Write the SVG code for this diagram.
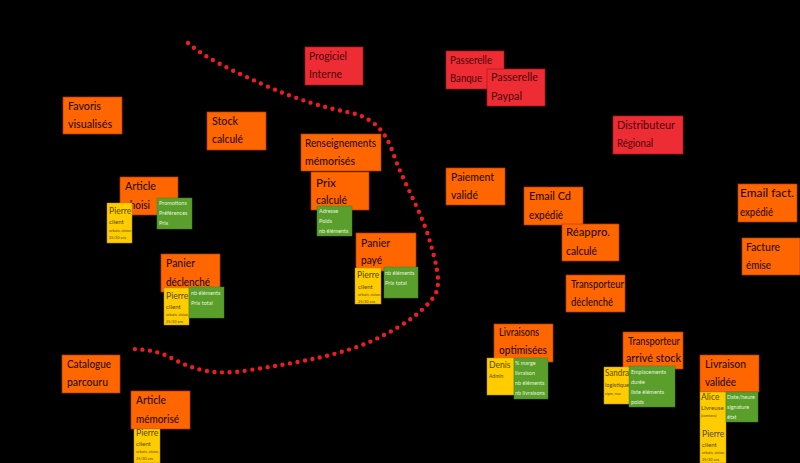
<svg xmlns="http://www.w3.org/2000/svg" width="800" height="463" viewBox="0 0 800 463">
<style>
text{font-family:"Lato","Liberation Sans",sans-serif;}
.o{fill:#ff6600;stroke:#b33c00;stroke-width:.7}
.r{fill:#ee2c34;stroke:#a81a20;stroke-width:.7}
.y{fill:#ffcc00;stroke:#b58f00;stroke-width:.5}
.g{fill:#5a9e2c;stroke:#4a8522;stroke-width:.5}
.ot{fill:#2a0e00;font-size:12px;font-weight:500}
.rt{fill:#4a060a;font-size:12px}
.yn{fill:#5a4a00;font-size:8.6px}
.yr{fill:#5a4a00;font-size:6.2px}
.ys{fill:#5a4a00;font-size:3.8px}
.gt{fill:#e6f2dc;font-size:5.5px}
.d{fill:none;stroke:#f01c24;stroke-width:4.4;stroke-linecap:round;stroke-dasharray:0 7.6}
</style>
<rect width="800" height="463" fill="#000"/>
<g id="connectors">
<path class="d" d="M188 43C205 58 235 72 262 84C295 99 325 108 352 113C375 119 385 132 392 150C402 180 418 205 428 235C436 262 441 280 436 293C428 308 405 325 380 337C345 355 300 362 250 370C215 376 195 370 175 360C160 351 145 349 128 349"/>
</g>
<g id="n-favoris"><rect class="o" x="63" y="97" width="59" height="37"/><text class="ot" x="68" y="110" textLength="33" lengthAdjust="spacingAndGlyphs">Favoris</text><text class="ot" x="68" y="128" textLength="44" lengthAdjust="spacingAndGlyphs">visualisés</text></g>
<g id="n-stock"><rect class="o" x="207" y="112" width="59" height="38"/><text class="ot" x="212" y="125" textLength="26" lengthAdjust="spacingAndGlyphs">Stock</text><text class="ot" x="212" y="143" textLength="31" lengthAdjust="spacingAndGlyphs">calculé</text></g>
<g id="n-article-choisi"><rect class="o" x="120" y="177" width="58" height="38"/><text class="ot" x="125" y="190" textLength="31" lengthAdjust="spacingAndGlyphs">Article</text><text class="ot" x="125" y="209" textLength="25" lengthAdjust="spacingAndGlyphs">choisi</text></g>
<g id="n-article-choisi-pierre"><rect class="y" x="107" y="203" width="25" height="40"/><text class="yn" x="109" y="214">Pierre</text><text class="yr" x="109" y="224">client</text><text class="ys" x="109" y="232">urbain, cision,</text><text class="ys" x="109" y="239">25/30 ans</text></g>
<g id="n-article-choisi-data"><rect class="g" x="157" y="198" width="35" height="31"/><text class="gt" x="159" y="205">Promotions</text><text class="gt" x="159" y="215">Préférences</text><text class="gt" x="159" y="225">Prix</text></g>
<g id="n-renseignements"><rect class="o" x="301" y="134" width="80" height="37"/><text class="ot" x="305" y="147" textLength="71" lengthAdjust="spacingAndGlyphs">Renseignements</text><text class="ot" x="305" y="165" textLength="50" lengthAdjust="spacingAndGlyphs">mémorisés</text></g>
<g id="n-prix"><rect class="o" x="311" y="172" width="58" height="38"/><text class="ot" x="316" y="187" textLength="20" lengthAdjust="spacingAndGlyphs">Prix</text><text class="ot" x="316" y="204" textLength="31" lengthAdjust="spacingAndGlyphs">calculé</text></g>
<g id="n-prix-data"><rect class="g" x="317" y="206" width="35" height="30"/><text class="gt" x="319" y="213">Adresse</text><text class="gt" x="319" y="223">Poids</text><text class="gt" x="319" y="233">nb éléments</text></g>
<g id="n-panier-paye"><rect class="o" x="356" y="233" width="60" height="38"/><text class="ot" x="361" y="247" textLength="29" lengthAdjust="spacingAndGlyphs">Panier</text><text class="ot" x="361" y="264" textLength="21" lengthAdjust="spacingAndGlyphs">payé</text></g>
<g id="n-panier-paye-pierre"><rect class="y" x="355" y="268" width="26" height="36"/><text class="yn" x="357" y="278">Pierre</text><text class="yr" x="358" y="289">client</text><text class="ys" x="358" y="296">urbain, cision,</text><text class="ys" x="358" y="303">25/30 ans</text></g>
<g id="n-panier-paye-data"><rect class="g" x="384" y="267" width="34" height="31"/><text class="gt" x="385" y="275">nb éléments</text><text class="gt" x="385" y="285">Prix total</text></g>
<g id="n-panier-declenche"><rect class="o" x="161" y="254" width="59" height="38"/><text class="ot" x="166" y="267" textLength="29" lengthAdjust="spacingAndGlyphs">Panier</text><text class="ot" x="166" y="286" textLength="44" lengthAdjust="spacingAndGlyphs">déclenché</text></g>
<g id="n-panier-declenche-pierre"><rect class="y" x="164" y="288" width="25" height="37"/><text class="yn" x="166" y="299">Pierre</text><text class="yr" x="166" y="309">client</text><text class="ys" x="166" y="316">urbain, cision,</text><text class="ys" x="166" y="323">25/30 ans</text></g>
<g id="n-panier-declenche-data"><rect class="g" x="189" y="287" width="35" height="31"/><text class="gt" x="191" y="295">nb éléments</text><text class="gt" x="191" y="305">Prix total</text></g>
<g id="n-catalogue"><rect class="o" x="62" y="355" width="58" height="38"/><text class="ot" x="67" y="368" textLength="44" lengthAdjust="spacingAndGlyphs">Catalogue</text><text class="ot" x="67" y="386" textLength="41" lengthAdjust="spacingAndGlyphs">parcouru</text></g>
<g id="n-article-memorise"><rect class="o" x="131" y="391" width="59" height="38"/><text class="ot" x="136" y="404" textLength="30" lengthAdjust="spacingAndGlyphs">Article</text><text class="ot" x="136" y="423" textLength="43" lengthAdjust="spacingAndGlyphs">mémorisé</text></g>
<g id="n-article-memorise-pierre"><rect class="y" x="134" y="429" width="26" height="34"/><text class="yn" x="136" y="436">Pierre</text><text class="yr" x="136" y="446">client</text><text class="ys" x="136" y="453">urbain, cision,</text><text class="ys" x="136" y="460">25/30 ans</text></g>
<g id="n-progiciel"><rect class="r" x="305" y="47" width="58" height="38"/><text class="rt" x="309" y="60" textLength="38" lengthAdjust="spacingAndGlyphs">Progiciel</text><text class="rt" x="309" y="78" textLength="33" lengthAdjust="spacingAndGlyphs">Interne</text></g>
<g id="n-banque"><rect class="r" x="446" y="51" width="58" height="38"/><text class="rt" x="450" y="64" textLength="42" lengthAdjust="spacingAndGlyphs">Passerelle</text><text class="rt" x="450" y="82" textLength="32" lengthAdjust="spacingAndGlyphs">Banque</text></g>
<g id="n-paypal"><rect class="r" x="487" y="69" width="58" height="37"/><text class="rt" x="491" y="81" textLength="47" lengthAdjust="spacingAndGlyphs">Passerelle</text><text class="rt" x="491" y="100" textLength="31" lengthAdjust="spacingAndGlyphs">Paypal</text></g>
<g id="n-distributeur"><rect class="r" x="613" y="116" width="70" height="38"/><text class="rt" x="617" y="129" textLength="58" lengthAdjust="spacingAndGlyphs">Distributeur</text><text class="rt" x="617" y="147" textLength="36" lengthAdjust="spacingAndGlyphs">Régional</text></g>
<g id="n-paiement"><rect class="o" x="446" y="168" width="59" height="37"/><text class="ot" x="451" y="181" textLength="43" lengthAdjust="spacingAndGlyphs">Paiement</text><text class="ot" x="451" y="199" textLength="27" lengthAdjust="spacingAndGlyphs">validé</text></g>
<g id="n-email-cd"><rect class="o" x="524" y="187" width="59" height="38"/><text class="ot" x="529" y="200" textLength="42" lengthAdjust="spacingAndGlyphs">Email Cd</text><text class="ot" x="529" y="219" textLength="34" lengthAdjust="spacingAndGlyphs">expédié</text></g>
<g id="n-reappro"><rect class="o" x="562" y="224" width="57" height="37"/><text class="ot" x="566" y="236" textLength="44" lengthAdjust="spacingAndGlyphs">Réappro.</text><text class="ot" x="566" y="255" textLength="31" lengthAdjust="spacingAndGlyphs">calculé</text></g>
<g id="n-transporteur-declenche"><rect class="o" x="566" y="275" width="59" height="37"/><text class="ot" x="571" y="288" textLength="53" lengthAdjust="spacingAndGlyphs">Transporteur</text><text class="ot" x="571" y="306" textLength="42" lengthAdjust="spacingAndGlyphs">déclenché</text></g>
<g id="n-email-fact"><rect class="o" x="738" y="184" width="59" height="38"/><text class="ot" x="740" y="197" textLength="54" lengthAdjust="spacingAndGlyphs">Email fact.</text><text class="ot" x="740" y="216" textLength="33" lengthAdjust="spacingAndGlyphs">expédié</text></g>
<g id="n-facture"><rect class="o" x="742" y="238" width="58" height="37"/><text class="ot" x="746" y="251" textLength="34" lengthAdjust="spacingAndGlyphs">Facture</text><text class="ot" x="746" y="269" textLength="25" lengthAdjust="spacingAndGlyphs">émise</text></g>
<g id="n-livraisons"><rect class="o" x="494" y="324" width="59" height="38"/><text class="ot" x="499" y="336" textLength="40" lengthAdjust="spacingAndGlyphs">Livraisons</text><text class="ot" x="499" y="354" textLength="48" lengthAdjust="spacingAndGlyphs">optimisées</text></g>
<g id="n-livraisons-denis"><rect class="y" x="487" y="358" width="27" height="37"/><text class="yn" x="489" y="368">Denis</text><text class="ys" x="489" y="378" style="font-size:5px">Admin</text></g>
<g id="n-livraisons-data"><rect class="g" x="514" y="358" width="34" height="41"/><text class="gt" x="515" y="365">% marge</text><text class="gt" x="515" y="375">livraison</text><text class="gt" x="515" y="385">nb éléments</text><text class="gt" x="515" y="395">nb livraisons</text></g>
<g id="n-transporteur-arrive"><rect class="o" x="623" y="332" width="60" height="37"/><text class="ot" x="628" y="345" textLength="52" lengthAdjust="spacingAndGlyphs">Transporteur</text><text class="ot" x="626" y="362" textLength="55" lengthAdjust="spacingAndGlyphs">arrivé stock</text></g>
<g id="n-sandra"><rect class="y" x="604" y="367" width="26" height="37"/><text class="yn" x="605" y="376" textLength="24" lengthAdjust="spacingAndGlyphs">Sandra</text><text class="yr" x="605" y="387" textLength="24" lengthAdjust="spacingAndGlyphs">logistique</text><text class="ys" x="605" y="395">cipm, nuz</text></g>
<g id="n-transporteur-arrive-data"><rect class="g" x="629" y="366" width="46" height="41"/><text class="gt" x="631" y="374">Emplacements</text><text class="gt" x="631" y="384">durée</text><text class="gt" x="631" y="394">liste éléments</text><text class="gt" x="631" y="404">poids</text></g>
<g id="n-livraison-validee"><rect class="o" x="700" y="355" width="59" height="37"/><text class="ot" x="705" y="368" textLength="41" lengthAdjust="spacingAndGlyphs">Livraison</text><text class="ot" x="705" y="386" textLength="31" lengthAdjust="spacingAndGlyphs">validée</text></g>
<g id="n-livraison-personnes"><rect class="y" x="700" y="392" width="26" height="71"/><text class="yn" x="701" y="400">Alice</text><text class="yr" x="701" y="410">Livreuse</text><text class="ys" x="701" y="417">(camions)</text><text class="yn" x="702" y="437">Pierre</text><text class="yr" x="702" y="447">client</text><text class="ys" x="702" y="454">urbain, cision,</text><text class="ys" x="702" y="461">25/30 ans</text></g>
<g id="n-livraison-data"><rect class="g" x="726" y="392" width="32" height="30"/><text class="gt" x="727" y="399">Date/heure</text><text class="gt" x="727" y="409">signature</text><text class="gt" x="727" y="419">état</text></g>
</svg>
